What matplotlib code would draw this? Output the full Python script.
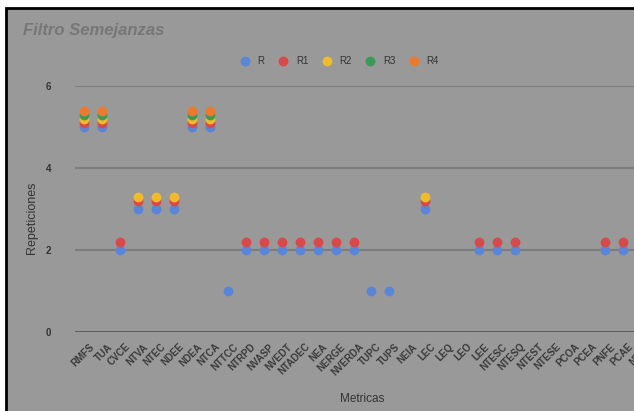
import numpy as np
import matplotlib
matplotlib.use("Agg")
import matplotlib.pyplot as plt
import matplotlib.transforms as mtransforms
from matplotlib.patches import Rectangle

nan = np.nan

# categories (the last one is cut off by the picture edge)
metricas = ["RMFS", "TUA", "CVCE", "NTVA", "NTEC", "NDEE", "NDEA", "NTCA", "NTTCC",
            "NTRPD", "NVASP", "NVEDT", "NTADEC", "NEA", "NERGE", "NVERDA", "TUPC",
            "TUPS", "NEIA", "LEC", "LEQ", "LEO", "LEE", "NTESC", "NTESQ", "NTEST",
            "NTESE", "PCOA", "PCEA", "PNFE", "PCAE", "NTCE"]

# series values
r = [5, 5, 2, 3, 3, 3, 5, 5, 1, 2, 2, 2, 2, 2, 2, 2, 1, 1, nan, 3, nan, nan, 2, 2, 2,
     nan, nan, nan, nan, 2, 2, nan]
r1 = [5.1, 5.1, 2.2, 3.2, 3.2, 3.2, 5.1, 5.1, nan, 2.2, 2.2, 2.2, 2.2, 2.2, 2.2, 2.2,
      nan, nan, nan, 3.2, nan, nan, 2.2, 2.2, 2.2, nan, nan, nan, nan, 2.2, 2.2, nan]
r2 = [5.2, 5.2, nan, 3.3, 3.3, 3.3, 5.2, 5.2, nan, nan, nan, nan, nan, nan, nan, nan,
      nan, nan, nan, 3.3, nan, nan, nan, nan, nan, nan, nan, nan, nan, nan, nan, nan]
r3 = [5.3, 5.3, nan, nan, nan, nan, 5.3, 5.3] + [nan] * 24
r4 = [5.4, 5.4, nan, nan, nan, nan, 5.4, 5.4] + [nan] * 24

series = [("R", r, "#5a86d8"), ("R1", r1, "#d84a4a"), ("R2", r2, "#efba2c"),
          ("R3", r3, "#3a9a5a"), ("R4", r4, "#ec7a2e")]

W, H = 634, 411
plt.rcParams['font.family'] = ['Liberation Sans', 'DejaVu Sans']
fig = plt.figure(figsize=(W / 100, H / 100), dpi=100, facecolor="white")

# gray card with black border (right/bottom cut off)
card = Rectangle((6 / W, -0.05), 1.1, (H - 8) / H + 0.05,
                 transform=fig.transFigure, facecolor="#999999",
                 edgecolor="black", linewidth=2, zorder=-10)
fig.patches.append(card)

ax = fig.add_axes([75 / W, (H - 332) / H, 575 / W, (332 - 86) / H])
ax.patch.set_alpha(0)
ax.set_zorder(1)

x = np.arange(len(metricas))
for name, vals, col in series:
    ax.scatter(x, vals, s=50, color=col, label=name, zorder=3, clip_on=False,
               linewidths=0)

ax.set_xlim(-0.5, len(metricas) - 0.5)
ax.set_ylim(0, 6)
ax.set_yticks([0, 2, 4, 6])
for yv in [2, 4, 6]:
    ax.axhline(yv, color="#7d7d7d", lw=1.5, zorder=1)
ax.axhline(0, color="#555555", lw=2, zorder=1)
for s in ax.spines.values():
    s.set_visible(False)
ax.tick_params(length=0)
ax.tick_params(axis="y", pad=17, labelsize=7, labelcolor="#333333")
ax.set_xticks(x)
ax.set_xticklabels(metricas, rotation=45, ha="right", va="top",
                   rotation_mode="anchor", fontsize=7, fontweight="bold",
                   color="#3a3a3a")
ax.tick_params(axis="x", pad=7)
shift = mtransforms.ScaledTranslation(0.05, 0, fig.dpi_scale_trans)
for lab in ax.get_xticklabels():
    lab.set_transform(lab.get_transform() + shift)
for lab in ax.get_yticklabels():
    lab.set_fontweight("bold")

fig.text(32 / W, 1 - 218 / H, "Repeticiones", rotation=90, ha="center",
         va="center", fontsize=9, color="#333333")
fig.text(362 / W, 1 - 399 / H, "Metricas", ha="center", va="center",
         fontsize=8.5, color="#333333")
fig.text(23 / W, 1 - 30 / H, "Filtro Semejanzas", ha="left", va="center",
         fontsize=12, fontweight="bold", fontstyle="italic", color="#777777")

fig.legend(loc="center", bbox_to_anchor=(337 / W, 1 - 61 / H), ncol=5,
           frameon=False, fontsize=7, labelcolor="#333333", handletextpad=0.3,
           columnspacing=0.9, markerscale=1.0, borderaxespad=0)

fig.savefig("out.png", dpi=100, facecolor="white")
